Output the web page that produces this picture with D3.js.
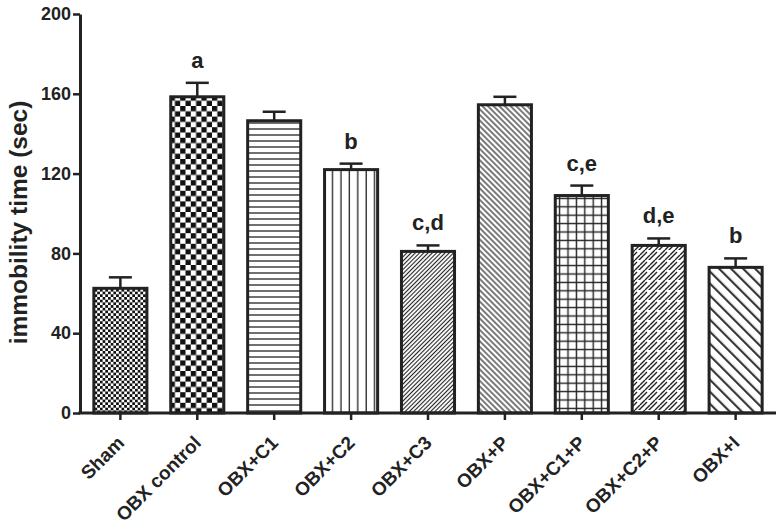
<!DOCTYPE html>
<html>
<head>
<meta charset="utf-8">
<script src="https://cdn.jsdelivr.net/npm/d3@7"></script>
<style>
  body { margin: 0; background: #fff; }
  text { font-family: "Liberation Sans", Arial, sans-serif; font-weight: bold; }
</style>
</head>
<body>
<script>
// data
const groups = ["Sham", "OBX control", "OBX+C1", "OBX+C2", "OBX+C3", "OBX+P", "OBX+C1+P", "OBX+C2+P", "OBX+I"];
const means  = [62.5, 158.5, 146.5, 122, 81, 154.5, 109, 84, 73];
const sems   = [5.5, 7, 4.5, 3, 3, 4, 5, 3.5, 4.5];
const marks  = ["", "a", "", "b", "c,d", "", "c,e", "d,e", "b"];
const yTicks = [0, 40, 80, 120, 160, 200];
const fills  = ["chkFine", "chkCoarse", "horiz", "vert", "diagFine", "diagBack", "grid", "brick", "diagWide"];

const width = 783, height = 532;
const margin = {left: 80, top: 14, bottom: 413, right: 776};

const svg = d3.select("body").append("svg")
  .attr("width", width)
  .attr("height", height);

const defs = svg.append("defs");

// fill patterns
function pat(id, w, h, tr) {
  const p = defs.append("pattern").attr("id", id)
    .attr("patternUnits", "userSpaceOnUse")
    .attr("width", w).attr("height", h);
  if (tr) p.attr("patternTransform", tr);
  p.append("rect").attr("width", w).attr("height", h).attr("fill", "#fff");
  return p;
}
let p;
p = pat("chkFine", 5.4, 5.4);
p.append("rect").attr("width", 2.7).attr("height", 2.7).attr("fill", "#111");
p.append("rect").attr("x", 2.7).attr("y", 2.7).attr("width", 2.7).attr("height", 2.7).attr("fill", "#111");

p = pat("chkCoarse", 10.6, 10.6);
p.append("rect").attr("width", 5.3).attr("height", 5.3).attr("fill", "#111");
p.append("rect").attr("x", 5.3).attr("y", 5.3).attr("width", 5.3).attr("height", 5.3).attr("fill", "#111");

p = pat("horiz", 10, 6);
p.append("line").attr("x1", 0).attr("x2", 10).attr("y1", 3).attr("y2", 3).attr("stroke", "#222").attr("stroke-width", 1.3);

p = pat("vert", 8.4, 10, "translate(1,0)");
p.append("line").attr("x1", 4).attr("x2", 4).attr("y1", 0).attr("y2", 10).attr("stroke", "#222").attr("stroke-width", 1.3);

p = pat("diagFine", 3, 10, "rotate(45)");
p.append("line").attr("x1", 1.5).attr("x2", 1.5).attr("y1", 0).attr("y2", 10).attr("stroke", "#222").attr("stroke-width", 1.1);

p = pat("diagBack", 4, 10, "rotate(-45)");
p.append("line").attr("x1", 2).attr("x2", 2).attr("y1", 0).attr("y2", 10).attr("stroke", "#222").attr("stroke-width", 1.2);

p = pat("grid", 8.4, 8.4, "translate(1,1)");
p.append("path").attr("d", "M4.2,0V8.4M0,4.2H8.4").attr("stroke", "#222").attr("stroke-width", 1.4);

// brick / weave of short slashes
p = pat("brick", 10, 10);
p.append("path").attr("d", "M0,5L5,0M2,7L7,2M5,10L10,5M7,12L12,7M-3,2L2,-3M-3,12L2,7")
  .attr("stroke", "#222").attr("stroke-width", 1.4).attr("fill", "none");

p = pat("diagWide", 8.5, 10, "rotate(-45)");
p.append("line").attr("x1", 4).attr("x2", 4).attr("y1", 0).attr("y2", 10).attr("stroke", "#222").attr("stroke-width", 2);

// scales
const x = d3.scaleBand().domain(groups)
  .range([margin.left, margin.right])
  .paddingInner(0.31).paddingOuter(0.18);
const y = d3.scaleLinear().domain([0, 200]).range([margin.bottom, margin.top]);

const data = groups.map((g, i) => ({g, m: means[i], e: sems[i], t: marks[i], f: fills[i]}));

// error bars (upper only)
const err = svg.append("g").attr("stroke", "#222").attr("stroke-width", 2.5);
err.selectAll("line.v").data(data).join("line")
  .attr("class", "v")
  .attr("x1", d => x(d.g) + x.bandwidth() / 2)
  .attr("x2", d => x(d.g) + x.bandwidth() / 2)
  .attr("y1", d => y(d.m))
  .attr("y2", d => y(d.m + d.e));
err.selectAll("line.c").data(data).join("line")
  .attr("class", "c")
  .attr("x1", d => x(d.g) + x.bandwidth() / 2 - 11.5)
  .attr("x2", d => x(d.g) + x.bandwidth() / 2 + 11.5)
  .attr("y1", d => y(d.m + d.e))
  .attr("y2", d => y(d.m + d.e));

// bars
svg.append("g").selectAll("rect").data(data).join("rect")
  .attr("x", d => x(d.g))
  .attr("y", d => y(d.m))
  .attr("width", x.bandwidth())
  .attr("height", d => y(0) - y(d.m))
  .attr("fill", d => `url(#${d.f})`)
  .attr("stroke", "#222")
  .attr("stroke-width", 3);

// significance letters
svg.append("g").selectAll("text").data(data).join("text")
  .attr("x", d => x(d.g) + x.bandwidth() / 2)
  .attr("y", d => y(d.m + d.e) - 15)
  .attr("text-anchor", "middle")
  .attr("font-size", 22)
  .attr("fill", "#222")
  .text(d => d.t);

// axes
const yAxis = svg.append("g")
  .attr("transform", `translate(${margin.left},0)`)
  .call(d3.axisLeft(y).tickValues(yTicks).tickSize(7).tickPadding(2).tickSizeOuter(0));
yAxis.select(".domain").attr("stroke", "#222").attr("stroke-width", 3);
yAxis.selectAll(".tick line").attr("stroke", "#222").attr("stroke-width", 2.5);
yAxis.selectAll(".tick text").attr("font-size", 18).attr("fill", "#222");

const xAxis = svg.append("g")
  .attr("transform", `translate(0,${margin.bottom})`)
  .call(d3.axisBottom(x).tickSize(7).tickSizeOuter(0));
xAxis.select(".domain").attr("stroke", "#222").attr("stroke-width", 3)
  .attr("d", `M${margin.left - 1.5},0H${margin.right}`);
xAxis.selectAll(".tick line").attr("stroke", "#222").attr("stroke-width", 2.5);
xAxis.selectAll(".tick text")
  .attr("font-size", 19).attr("fill", "#222")
  .attr("text-anchor", "end")
  .attr("dy", null).attr("y", 0)
  .attr("transform", "translate(5,31) rotate(-45)");

svg.append("text")
  .attr("transform", `translate(27,${(y(0) + y(200)) / 2 + 9}) rotate(-90)`)
  .attr("text-anchor", "middle")
  .attr("font-size", 24.5)
  .attr("fill", "#222")
  .text("immobility time (sec)");
</script>
</body>
</html>
